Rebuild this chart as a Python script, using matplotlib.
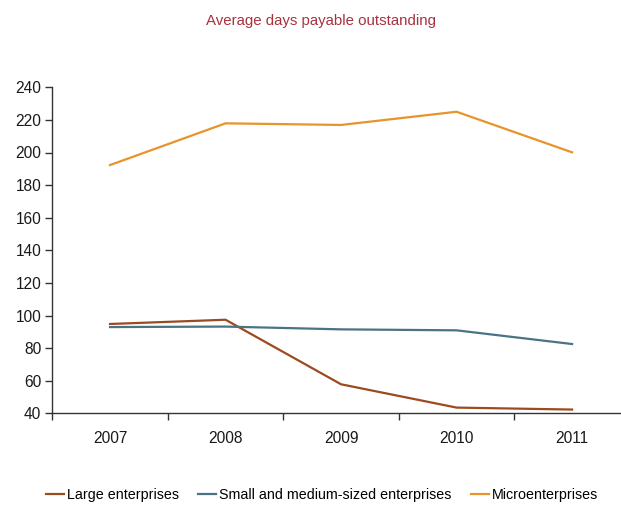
import matplotlib
matplotlib.use("Agg")
import matplotlib.pyplot as plt
from matplotlib.ticker import FixedLocator, NullFormatter, FixedFormatter

plt.rcParams['font.family'] = ['Liberation Sans', 'DejaVu Sans']

years = ["2007", "2008", "2009", "2010", "2011"]
large = [94.8, 97.4, 57.8, 43.5, 42.3]
sme = [92.9, 93.2, 91.5, 90.9, 82.5]
micro = [192.3, 217.9, 216.9, 225.0, 200.1]

series = [
    ("Large enterprises", large, "#9C4A1F"),
    ("Small and medium-sized enterprises", sme, "#4A7384"),
    ("Microenterprises", micro, "#E8932B"),
]

W, H = 621, 505
fig = plt.figure(figsize=(W / 100, H / 100), dpi=100)
ax = fig.add_axes([52.3 / W, (H - 413.3) / H, 577.5 / W, 326 / H])

x = list(range(len(years)))
for name, vals, col in series:
    ax.plot(x, vals, color=col, lw=1.6, label=name, solid_joinstyle='miter')

ax.set_xlim(-0.5, len(years) - 0.5)
ax.set_ylim(40, 240)
ax.set_yticks(range(40, 241, 20))
ax.xaxis.set_major_locator(FixedLocator([i - 0.5 for i in range(len(years) + 1)]))
ax.xaxis.set_major_formatter(NullFormatter())
ax.xaxis.set_minor_locator(FixedLocator(x))
ax.xaxis.set_minor_formatter(FixedFormatter(years))
ax.tick_params(axis='x', which='minor', length=0, pad=13, labelsize=11.2, colors='#1a1a1a')
ax.tick_params(axis='x', which='major', length=5, width=1, color='#333333')
ax.tick_params(axis='y', length=5, width=1, color='#333333', labelsize=11.2, pad=3, labelcolor='#1a1a1a')

for side in ("top", "right"):
    ax.spines[side].set_visible(False)
for side in ("left", "bottom"):
    ax.spines[side].set_color('#333333')
    ax.spines[side].set_linewidth(1)

fig.text(321.5 / W, 1 - 21 / H, "Average days payable outstanding",
         color="#A8323E", fontsize=10.8, ha='center', va='center')

fig.legend(loc='center', bbox_to_anchor=(322 / W, 1 - 495 / H), ncol=3,
           frameon=False, fontsize=10.3, handlelength=1.25, handletextpad=0.2,
           columnspacing=1.35, borderaxespad=0)

fig.savefig("out.png", dpi=100)
